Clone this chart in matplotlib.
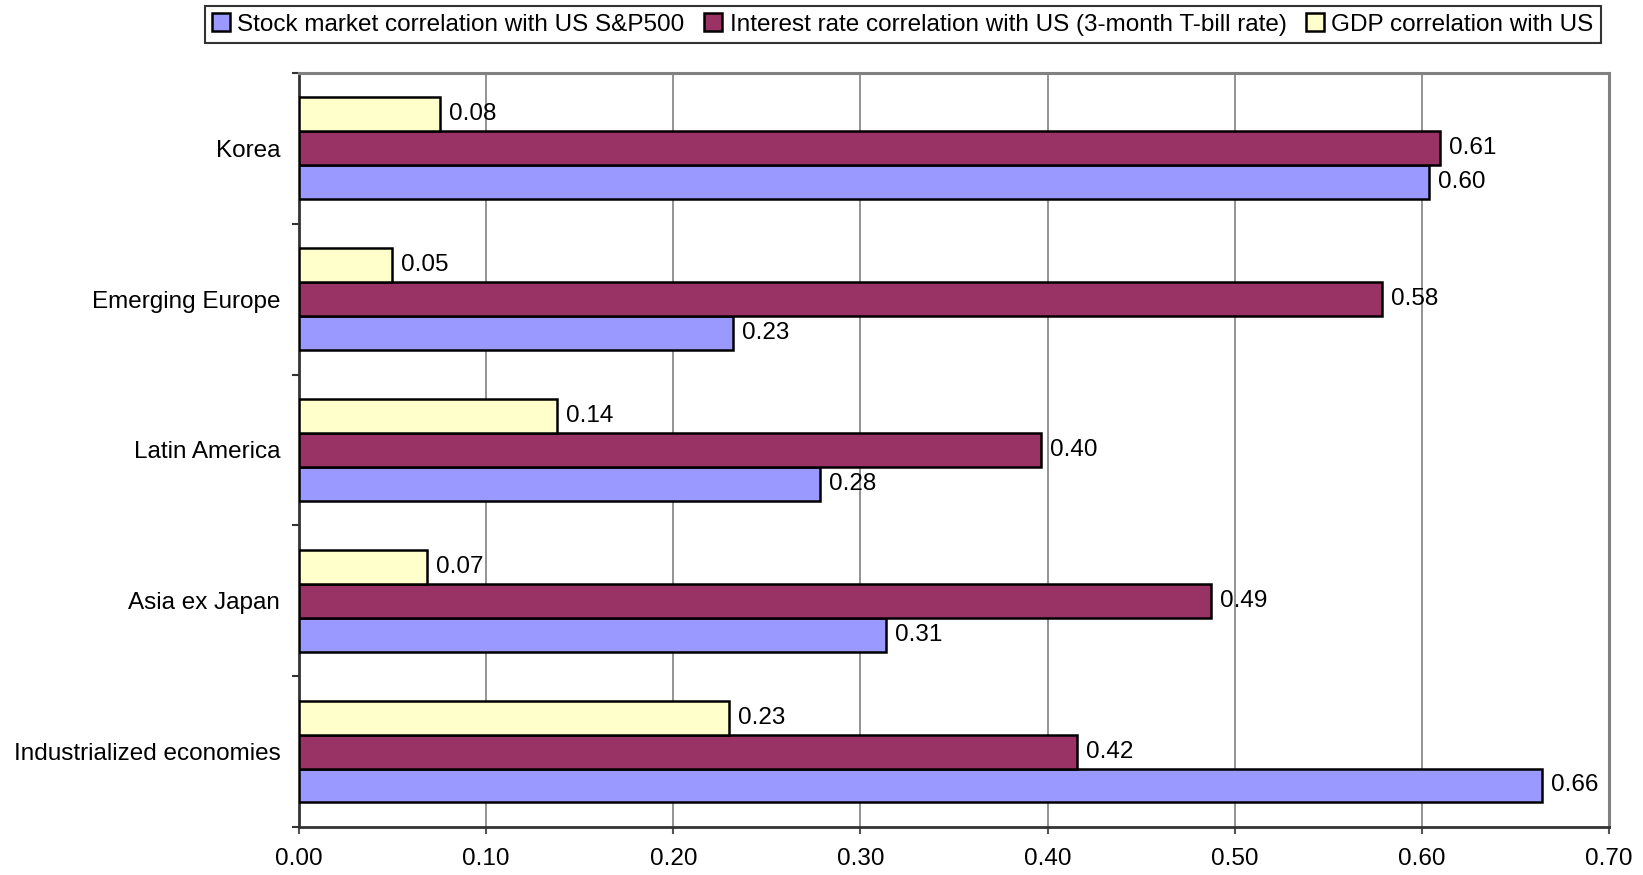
import numpy as np
import matplotlib.pyplot as plt
from matplotlib.ticker import MultipleLocator, FixedLocator

plt.rcParams['font.family'] = ['Liberation Sans', 'DejaVu Sans']

regions = ['Industrialized economies', 'Asia ex Japan', 'Latin America',
           'Emerging Europe', 'Korea']
stock = [0.664, 0.3135, 0.2783, 0.2318, 0.6036]
rates = [0.4155, 0.4871, 0.3964, 0.5786, 0.6096]
gdp = [0.2296, 0.0683, 0.1377, 0.0498, 0.0755]

series = [
    ('Stock market correlation with US S&P500', stock, '#9999FF'),
    ('Interest rate correlation with US (3-month T-bill rate)', rates, '#993366'),
    ('GDP correlation with US', gdp, '#FFFFCC'),
]

fig = plt.figure(figsize=(16.43, 8.75), dpi=100)
ax = fig.add_axes([0.182, 0.0549, 0.7973, 0.8617])

y = np.arange(len(regions))
h = 0.225
fs = 17.5

for i, (name, vals, col) in enumerate(series):
    off = (i - 1) * h
    bars = ax.barh(y + off, vals, height=h, color=col, edgecolor='black',
                   linewidth=1.8, label=name, zorder=3)
    for b, v in zip(bars, vals):
        ax.annotate('%.2f' % round(v, 2), (v, b.get_y() + h / 2),
                    xytext=(6.5, 0), textcoords='offset points',
                    va='center', ha='left', fontsize=fs, zorder=4)

ax.set_xlim(0, 0.70)
ax.set_ylim(-0.5, len(regions) - 0.5)
ax.xaxis.set_major_locator(MultipleLocator(0.1))
ax.xaxis.set_major_formatter(plt.FormatStrFormatter('%.2f'))
ax.grid(axis='x', color='#808080', linewidth=1.2, zorder=0)

# category labels centred, tick marks between the groups
ax.set_yticks(y)
ax.set_yticklabels(regions)
ax.yaxis.set_minor_locator(FixedLocator(np.arange(-0.5, len(regions), 1.0)))
ax.tick_params(axis='y', which='major', length=0, pad=13.5, labelsize=fs)
ax.tick_params(axis='y', which='minor', length=5, width=1.5, color='#333333')
ax.tick_params(axis='x', length=5, width=1.5, color='#555555', pad=10,
               labelsize=fs)

for s in ('left', 'bottom'):
    ax.spines[s].set_color('#333333')
    ax.spines[s].set_linewidth(2)
for s in ('top', 'right'):
    ax.spines[s].set_color('#808080')
    ax.spines[s].set_linewidth(2.2)

leg = fig.legend(loc='upper right', bbox_to_anchor=(0.9744, 0.9931), ncol=3,
                 fontsize=fs, frameon=True, fancybox=False,
                 edgecolor='black', handlelength=0.75, handleheight=0.75,
                 handletextpad=0.3, columnspacing=0.8, borderpad=0.3,
                 borderaxespad=0)
leg.get_frame().set_linewidth(1.5)

fig.savefig('out.png', dpi=100, facecolor='white')
